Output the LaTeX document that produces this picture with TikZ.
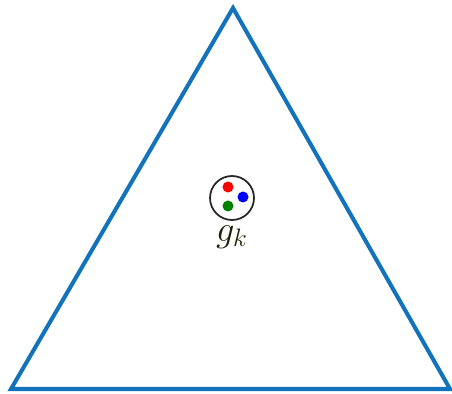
\documentclass[tikz,border=0pt]{standalone}
\usetikzlibrary{positioning}
\definecolor{edgeblue}{RGB}{18,115,188}
\definecolor{labeldark}{RGB}{30,32,10}
\begin{document}
\begin{tikzpicture}[x=0.02cm,y=-0.02cm]
\useasboundingbox (0,0) rectangle (452,394);
% triangulo
\coordinate (top) at (233,8);
\coordinate (bl) at (11,389);
\coordinate (br) at (450,389);
\draw[edgeblue, line width=2.3pt, line join=miter] (top) -- (br) -- (bl) -- cycle;
% grupo g_k
\node[circle, draw=black!85, line width=1pt, minimum size=0.88cm, inner sep=0pt] (gk) at (232,198) {};
\fill[red] (228,187) circle (0.11cm);
\fill[blue] (243,197) circle (0.11cm);
\fill[green!50!black] (228,206) circle (0.11cm);
\node[labeldark, font=\fontsize{20}{24}\selectfont, below=-1pt of gk] (lbl) {$g_k$};
\end{tikzpicture}
\end{document}
